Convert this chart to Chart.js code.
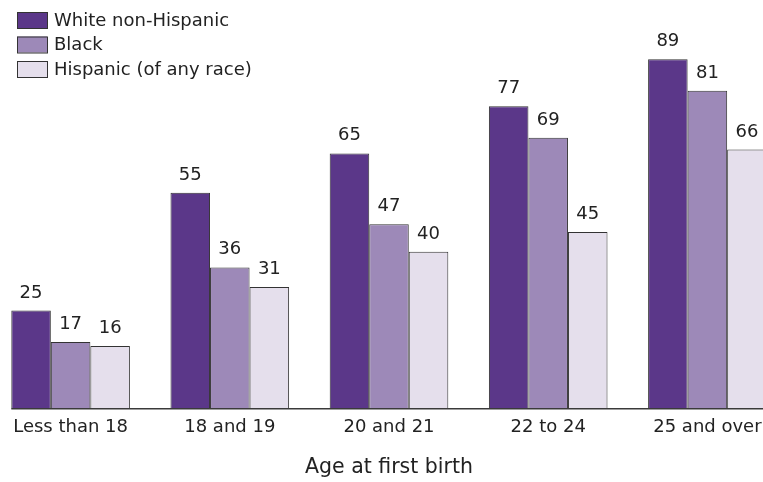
<!DOCTYPE html>
<html>
<head>
<meta charset="utf-8">
<script src="https://cdn.jsdelivr.net/npm/chart.js@4/dist/chart.umd.min.js"></script>
<style>
    html, body { margin: 0; padding: 0; background: #fff; overflow: hidden; width: 763px; height: 482px; }
    #wrap { position: absolute; left: -9px; top: 0; width: 796px; height: 482px; }
</style>
</head>
<body>
<div id="wrap"><canvas id="myChart"></canvas></div>
<script>
let ageGroups = ["Less than 18", "18 and 19", "20 and 21", "22 to 24", "25 and over"];
let seriesNames = ["White non-Hispanic", "Black", "Hispanic (of any race)"];
let whiteValues = [25, 55, 65, 77, 89];
let blackValues = [17, 36, 47, 69, 81];
let hispanicValues = [16, 31, 40, 45, 66];

let barColors = ["#5b3789", "#9d89b8", "#e5dfec"];
let edgeColor = "#333333";
let fontFamily = "'DejaVu Sans', sans-serif";

// values over each bar
let valueLabels = {
    id: "valueLabels",
    afterDatasetsDraw(chart) {
        let ctx = chart.ctx;
        ctx.save();
        ctx.font = "18px " + fontFamily;
        ctx.fillStyle = "#222";
        ctx.textAlign = "center";
        ctx.textBaseline = "alphabetic";
        chart.data.datasets.forEach((ds, i) => {
            chart.getDatasetMeta(i).data.forEach((bar, j) => {
                ctx.fillText(ds.data[j], bar.x, bar.y - 13);
            });
        });
        ctx.restore();
    }
};

// base line, starting at the first bar
let baseLine = {
    id: "baseLine",
    afterDatasetsDraw(chart) {
        let ctx = chart.ctx;
        let first = chart.getDatasetMeta(0).data[0];
        let y = chart.scales.y.getPixelForValue(0);
        ctx.save();
        ctx.strokeStyle = "#3a3a3a";
        ctx.lineWidth = 1.5;
        ctx.beginPath();
        ctx.moveTo(first.x - first.width / 2, y);
        ctx.lineTo(chart.width, y);
        ctx.stroke();
        ctx.restore();
    }
};

// stacked legend in the top left corner
let stackedLegend = {
    id: "stackedLegend",
    afterDraw(chart) {
        let ctx = chart.ctx;
        ctx.save();
        ctx.font = "18px " + fontFamily;
        ctx.textBaseline = "middle";
        ctx.textAlign = "left";
        chart.data.datasets.forEach((ds, i) => {
            let top = 12 + i * 24.5;
            ctx.fillStyle = ds.backgroundColor;
            ctx.fillRect(26, top, 30, 16);
            ctx.strokeStyle = edgeColor;
            ctx.lineWidth = 1;
            ctx.strokeRect(26.5, top + 0.5, 30, 16);
            ctx.fillStyle = "#222";
            ctx.fillText(ds.label, 63, top + 9);
        });
        ctx.restore();
    }
};

new Chart("myChart", {
    type: "bar",
    data: {
        labels: ageGroups,
        datasets: [
            { label: seriesNames[0], data: whiteValues, backgroundColor: barColors[0] },
            { label: seriesNames[1], data: blackValues, backgroundColor: barColors[1] },
            { label: seriesNames[2], data: hispanicValues, backgroundColor: barColors[2] }
        ].map(ds => Object.assign(ds, {
            borderColor: edgeColor,
            borderWidth: 1,
            barPercentage: 1,
            categoryPercentage: 0.745
        }))
    },
    options: {
        responsive: true,
        maintainAspectRatio: false,
        animation: false,
        layout: { padding: { top: 16, left: 0, right: 0, bottom: 0 } },
        plugins: {
            legend: { display: false },
            tooltip: { enabled: false }
        },
        scales: {
            x: {
                grid: { display: false },
                border: { display: false },
                ticks: {
                    color: "#222",
                    padding: 0,
                    maxRotation: 0,
                    autoSkip: false,
                    font: { family: fontFamily, size: 18 }
                },
                title: {
                    display: true,
                    text: "Age at first birth",
                    color: "#222",
                    padding: { top: 17, bottom: 2 },
                    font: { family: fontFamily, size: 20.5 }
                }
            },
            y: {
                display: false,
                min: 0,
                max: 100
            }
        }
    },
    plugins: [valueLabels, baseLine, stackedLegend]
});
</script>
</body>
</html>
